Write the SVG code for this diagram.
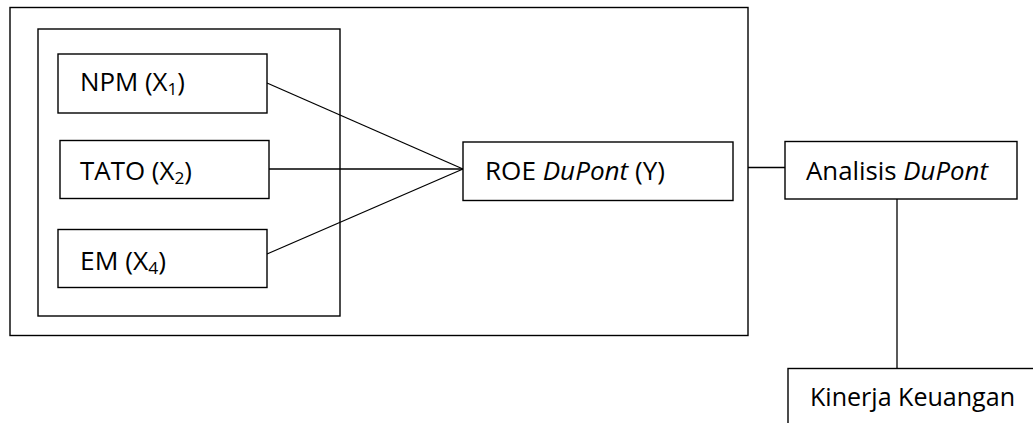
<svg xmlns="http://www.w3.org/2000/svg" width="1033" height="423" viewBox="0 0 1033 423">
  <style>
    .box { fill: #ffffff; stroke: #000000; stroke-width: 1.4; }
    .frame { fill: none; stroke: #000000; stroke-width: 1.4; }
    .conn { fill: none; stroke: #000000; stroke-width: 1.3; }
    .lbl { font-family: "Open Sans", "Noto Sans", "Liberation Sans", sans-serif; font-size: 25.5px; fill: #000000; }
    .it { font-style: italic; }
    .sub { font-size: 17px; }
  </style>
  <rect width="1033" height="423" fill="#ffffff"/>
  <g id="outer-frame">
    <rect class="frame" x="10" y="7.5" width="738" height="328"/>
  </g>
  <g id="inner-frame">
    <rect class="frame" x="38" y="29" width="302" height="287"/>
  </g>
  <g id="connectors">
    <line class="conn" x1="267" y1="83" x2="463" y2="169"/>
    <line class="conn" x1="269" y1="169" x2="463" y2="169"/>
    <line class="conn" x1="267" y1="254" x2="463" y2="169"/>
    <line class="conn" x1="748" y1="167.5" x2="785" y2="167.5"/>
    <line class="conn" x1="897" y1="199" x2="897" y2="368"/>
  </g>
  <g id="node-npm">
    <rect class="box" x="58" y="54" width="209" height="59"/>
    <text class="lbl" x="80" y="91" textLength="105" lengthAdjust="spacingAndGlyphs">NPM (X<tspan class="sub" dy="4">1</tspan><tspan dy="-4">)</tspan></text>
  </g>
  <g id="node-tato">
    <rect class="box" x="60" y="140.5" width="209" height="58"/>
    <text class="lbl" x="80" y="180" textLength="112" lengthAdjust="spacingAndGlyphs">TATO (X<tspan class="sub" dy="4">2</tspan><tspan dy="-4">)</tspan></text>
  </g>
  <g id="node-em">
    <rect class="box" x="58" y="229.5" width="209" height="58"/>
    <text class="lbl" x="80" y="270" textLength="86" lengthAdjust="spacingAndGlyphs">EM (X<tspan class="sub" dy="4">4</tspan><tspan dy="-4">)</tspan></text>
  </g>
  <g id="node-roe">
    <rect class="box" x="463" y="142" width="270" height="58.5"/>
    <text class="lbl" x="485" y="180" textLength="180" lengthAdjust="spacingAndGlyphs">ROE <tspan class="it">DuPont</tspan> (Y)</text>
  </g>
  <g id="node-analisis">
    <rect class="box" x="785" y="141.5" width="232" height="57.5"/>
    <text class="lbl" x="806" y="179.5" textLength="182" lengthAdjust="spacingAndGlyphs">Analisis <tspan class="it">DuPont</tspan></text>
  </g>
  <g id="node-kinerja">
    <rect class="box" x="788" y="368.5" width="260" height="70"/>
    <text class="lbl" x="810" y="406" textLength="205" lengthAdjust="spacingAndGlyphs">Kinerja Keuangan</text>
  </g>
</svg>
